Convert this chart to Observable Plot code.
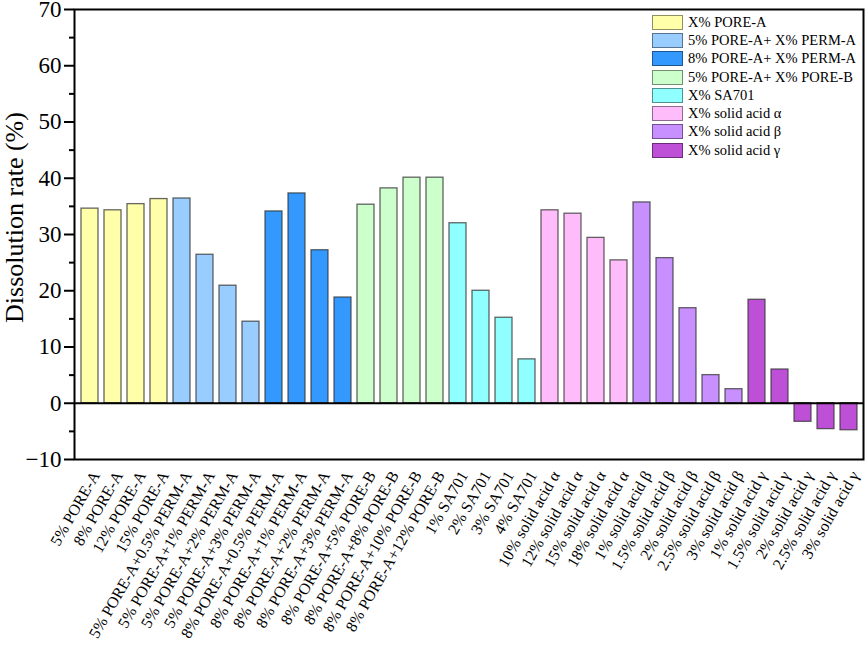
<!DOCTYPE html>
<html>
<head>
<meta charset="utf-8">
<script src="https://cdn.jsdelivr.net/npm/d3@7"></script>
<script src="https://cdn.jsdelivr.net/npm/@observablehq/plot@0.6"></script>
<style>
  html, body { margin: 0; padding: 0; background: #fff; }
  #wrap { position: relative; width: 865px; height: 646px; font-family: "Liberation Serif", "Times New Roman", serif; }
  #legend { position: absolute; left: 652px; top: 13px; font-size: 14.5px; color: #000; }
  .row { display: flex; align-items: center; height: 18.3px; }
  .sw { width: 29px; height: 13px; border: 1.5px solid #555; margin-right: 5px; box-sizing: content-box; }
</style>
</head>
<body>
<div id="wrap"><div id="chart"></div><div id="legend"></div></div>
<script>
const labels = [
  "5% PORE-A","8% PORE-A","12% PORE-A","15% PORE-A",
  "5% PORE-A+0.5% PERM-A","5% PORE-A+1% PERM-A","5% PORE-A+2% PERM-A","5% PORE-A+3% PERM-A",
  "8% PORE-A+0.5% PERM-A","8% PORE-A+1% PERM-A","8% PORE-A+2% PERM-A","8% PORE-A+3% PERM-A",
  "8% PORE-A+5% PORE-B","8% PORE-A+8% PORE-B","8% PORE-A+10% PORE-B","8% PORE-A+12% PORE-B",
  "1% SA701","2% SA701","3% SA701","4% SA701",
  "10% solid acid α","12% solid acid α","15% solid acid α","18% solid acid α",
  "1% solid acid β","1.5% solid acid β","2% solid acid β","2.5% solid acid β","3% solid acid β",
  "1% solid acid γ","1.5% solid acid γ","2% solid acid γ","2.5% solid acid γ","3% solid acid γ"
];
const values = [
  34.6, 34.3, 35.4, 36.3,
  36.4, 26.4, 20.9, 14.5,
  34.1, 37.3, 27.2, 18.8,
  35.3, 38.2, 40.1, 40.1,
  32.0, 20.0, 15.2, 7.8,
  34.3, 33.7, 29.4, 25.4,
  35.7, 25.8, 16.9, 5.0, 2.5,
  18.4, 6.0, -3.3, -4.6, -4.8
];
const groupIndex = [0,0,0,0, 1,1,1,1, 2,2,2,2, 3,3,3,3, 4,4,4,4, 5,5,5,5, 6,6,6,6,6, 7,7,7,7,7];
const groupNames = [
  "X% PORE-A","5% PORE-A+ X% PERM-A","8% PORE-A+ X% PERM-A","5% PORE-A+ X% PORE-B",
  "X% SA701","X% solid acid α","X% solid acid β","X% solid acid γ"
];
const groupColors = ["#FFFFAA","#99CCFF","#3399FF","#CCFFCC","#90FFFF","#FFBCFA","#C890FF","#BE50D8"];
const yTicks = [-10, 0, 10, 20, 30, 40, 50, 60, 70];
const yMinorTicks = [-5, 5, 15, 25, 35, 45, 55, 65];

const data = labels.map((l, i) => ({label: l, value: values[i], group: groupNames[groupIndex[i]]}));

const chart = Plot.plot({
  width: 865,
  height: 646,
  marginLeft: 74,
  marginRight: 2,
  marginTop: 9,
  marginBottom: 187,
  style: {fontFamily: "'Liberation Serif', 'Times New Roman', serif", color: "#000", background: "#fff", overflow: "visible"},
  x: {domain: labels, paddingInner: 0.27, paddingOuter: 0.11, label: null},
  y: {domain: [-10, 70], label: null},
  color: {domain: groupNames, range: groupColors},
  marks: [
    Plot.barY(data, {x: "label", y: "value", fill: "group", stroke: "#333", strokeOpacity: 0.75, strokeWidth: 1.3}),
    Plot.ruleY([0], {stroke: "#000", strokeWidth: 2}),
    Plot.frame({stroke: "#000", strokeWidth: 2}),
    Plot.axisY({ticks: yTicks, tickSize: 10, tickPadding: 3, strokeWidth: 2, fontSize: 23, label: null}),
    Plot.axisY({ticks: yMinorTicks, tickSize: 5, strokeWidth: 2, tickFormat: () => "", label: null}),
    Plot.axisX({tickRotate: -60, tickSize: 0, tickPadding: 13, fontSize: 16, dx: 6, label: null}),
    Plot.text(["Dissolution rate (%)"], {frameAnchor: "left", textAnchor: "middle", rotate: -90, dx: -60, dy: -17, fontSize: 26, fill: "#000"})
  ]
});
document.getElementById("chart").appendChild(chart);

const legend = document.getElementById("legend");
groupNames.forEach((name, i) => {
  const row = document.createElement("div");
  row.className = "row";
  const sw = document.createElement("div");
  sw.className = "sw";
  sw.style.background = groupColors[i];
  sw.style.borderColor = d3.color(groupColors[i]).darker(1.6).formatHex();
  const t = document.createElement("span");
  t.textContent = name;
  row.appendChild(sw);
  row.appendChild(t);
  legend.appendChild(row);
});
</script>
</body>
</html>
